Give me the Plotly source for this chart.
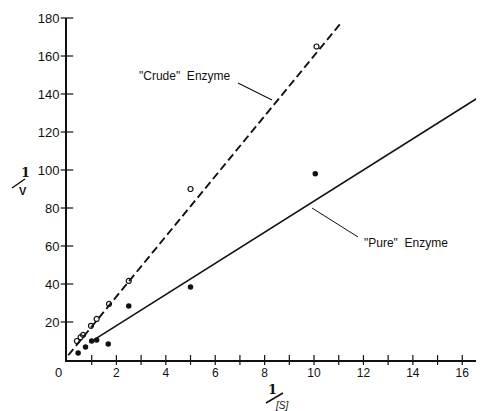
import plotly.graph_objects as go

# Data (Lineweaver-Burk plot)
crude_x = [0.40, 0.55, 0.65, 0.97, 1.20, 1.70, 2.50, 5.00, 10.10]
crude_y = [10.0, 12.0, 13.2, 18.0, 21.6, 29.5, 41.6, 90.0, 165.0]

pure_x = [0.45, 0.75, 1.00, 1.20, 1.67, 2.50, 5.00, 10.05, 16.80]
pure_y = [3.7, 6.8, 10.0, 10.5, 8.4, 28.4, 38.4, 98.0, 129.5]

crude_fit_x = [0.05, 11.13]
crude_fit_y = [2.5, 178.0]
pure_fit_x = [1.20, 16.88]
pure_fit_y = [11.5, 140.0]

x_tick_vals = [2, 4, 6, 8, 10, 12, 14, 16]
x_minor_ticks = list(range(1, 17))
y_tick_vals = [20, 40, 60, 80, 100, 120, 140, 160, 180]

FONT = "Liberation Sans"
INK = "#111111"

fig = go.Figure()

# fitted lines
fig.add_trace(go.Scatter(x=crude_fit_x, y=crude_fit_y, mode="lines",
                         line=dict(color=INK, width=1.9, dash="8px,4px"),
                         hoverinfo="skip", showlegend=False))
fig.add_trace(go.Scatter(x=pure_fit_x, y=pure_fit_y, mode="lines",
                         line=dict(color=INK, width=1.6),
                         hoverinfo="skip", showlegend=False))

# data points
fig.add_trace(go.Scatter(x=crude_x, y=crude_y, mode="markers",
                         marker=dict(symbol="circle-open", size=5, color=INK,
                                     line=dict(width=1.2, color=INK)),
                         showlegend=False, cliponaxis=False))
fig.add_trace(go.Scatter(x=pure_x, y=pure_y, mode="markers",
                         marker=dict(symbol="circle", size=5.5, color=INK),
                         showlegend=False, cliponaxis=False))

# crossing tick marks
fig.add_trace(go.Scatter(x=x_minor_ticks, y=[0] * len(x_minor_ticks), mode="markers",
                         marker=dict(symbol="line-ns-open", size=7, color=INK,
                                     line=dict(width=1.2, color=INK)),
                         hoverinfo="skip", showlegend=False, cliponaxis=False))
fig.add_trace(go.Scatter(x=[0] * len(y_tick_vals), y=y_tick_vals, mode="markers",
                         marker=dict(symbol="line-ew-open", size=9, color=INK,
                                     line=dict(width=1.2, color=INK)),
                         hoverinfo="skip", showlegend=False, cliponaxis=False))

# page body has an 8px margin; compensate so plot area spans page x 67..484, y 18..360
OFF = 8
W, H = 476, 403
L, R, T, B = 59, 0, 10, 51
pw, ph = W - L - R, H - T - B


def px(page_x):
    return (page_x - OFF - L) / pw


def py(page_y):
    return (H - B - (page_y - OFF)) / ph


def label(x, y, text, size=12, family=FONT):
    return dict(x=px(x), y=py(y), xref="paper", yref="paper", text=text,
                showarrow=False, xanchor="center", yanchor="middle",
                font=dict(size=size, color=INK, family=family))


annotations = [
    dict(x=0, y=0, xref="x", yref="y", text="0", showarrow=False,
         xanchor="center", yanchor="middle",
         xshift=-9, yshift=-12, font=dict(size=13, color=INK, family=FONT)),
    label(185, 76, '"Crude"  Enzyme'),
    label(406, 243, '"Pure"  Enzyme'),
    label(25, 172, "<b>1</b>", 13, "DejaVu Serif"),
    label(22.5, 191, "<b>V</b>", 11),
    label(272, 389, "<b>1</b>", 13, "DejaVu Serif"),
    label(281, 405, "<i>[S]</i>", 10),
]

shapes = [
    dict(type="line", xref="paper", yref="paper",
         x0=px(238), y0=py(83), x1=px(272), y1=py(100),
         line=dict(color=INK, width=1.2)),
    dict(type="line", xref="paper", yref="paper",
         x0=px(312), y0=py(208), x1=px(358), y1=py(237),
         line=dict(color=INK, width=1)),
    dict(type="line", xref="paper", yref="paper",
         x0=px(12), y0=py(188), x1=px(25), y1=py(179),
         line=dict(color=INK, width=1.5)),
    dict(type="line", xref="paper", yref="paper",
         x0=px(266), y0=py(403), x1=px(283), y1=py(393),
         line=dict(color=INK, width=1.5)),
]

fig.update_layout(
    width=W, height=H,
    margin=dict(l=L, r=R, t=T, b=B, pad=0),
    paper_bgcolor="white", plot_bgcolor="white",
    showlegend=False,
    annotations=annotations,
    shapes=shapes,
    xaxis=dict(range=[0, 16.88], tickvals=x_tick_vals, ticks="",
               showgrid=False, zeroline=False, showline=True,
               linecolor=INK, linewidth=1.5, ticklabelstandoff=1,
               tickfont=dict(size=12, color=INK, family=FONT), fixedrange=True),
    yaxis=dict(range=[0, 180], tickvals=y_tick_vals, ticks="",
               showgrid=False, zeroline=False, showline=True,
               linecolor=INK, linewidth=1.8, ticklabelstandoff=3,
               tickfont=dict(size=13, color=INK, family=FONT), fixedrange=True),
)

fig.write_html("out.html")
